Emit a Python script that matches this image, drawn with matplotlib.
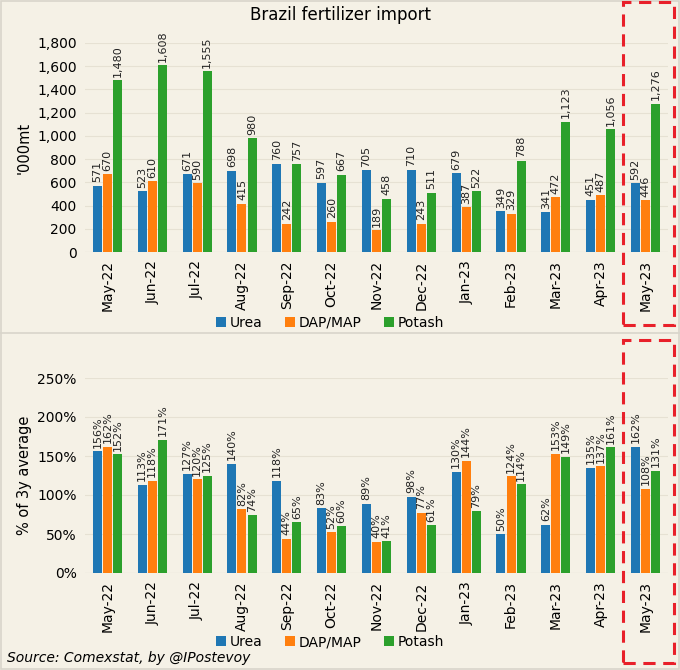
import matplotlib
matplotlib.use("Agg")
import matplotlib.pyplot as plt
import numpy as np
from matplotlib.patches import Rectangle
from matplotlib.lines import Line2D
from matplotlib.ticker import FuncFormatter

months = ["May-22", "Jun-22", "Jul-22", "Aug-22", "Sep-22", "Oct-22", "Nov-22",
          "Dec-22", "Jan-23", "Feb-23", "Mar-23", "Apr-23", "May-23"]
series = ["Urea", "DAP/MAP", "Potash"]

# '000 mt
urea_kt = [571, 523, 671, 698, 760, 597, 705, 710, 679, 349, 341, 451, 592]
dap_kt = [670, 610, 590, 415, 242, 260, 189, 243, 387, 329, 472, 487, 446]
potash_kt = [1480, 1608, 1555, 980, 757, 667, 458, 511, 522, 788, 1123, 1056, 1276]

# % of 3y average
urea_pct = [156, 113, 127, 140, 118, 83, 89, 98, 130, 50, 62, 135, 162]
dap_pct = [162, 118, 120, 82, 44, 52, 40, 77, 144, 124, 153, 137, 108]
potash_pct = [152, 171, 125, 74, 65, 60, 41, 61, 79, 114, 149, 161, 131]

colors = ["#1f77b4", "#ff7f0e", "#2ca02c"]
BG = "#f5f1e6"
W, H = 680, 670


def px_axes(fig, left, top, right, bottom):
    return fig.add_axes([left / W, 1 - bottom / H, (right - left) / W, (bottom - top) / H])


def draw_panel(ax, values, fmt, ylim, step, ylabel):
    x = np.arange(len(months))
    width = 0.2
    offsets = [-0.225, 0, 0.225]
    for vals, off, color, name in zip(values, offsets, colors, series):
        bars = ax.bar(x + off, vals, width, color=color, label=name, zorder=3)
        for b, v in zip(bars, vals):
            ax.annotate(fmt(v), (b.get_x() + b.get_width() / 2, b.get_height()),
                        xytext=(0, 2.5), textcoords="offset points",
                        rotation=90, ha="center", va="bottom", fontsize=8,
                        color="#222222")
    ax.set_facecolor(BG)
    ax.set_xlim(-0.5, len(months) - 0.5)
    ax.set_ylim(*ylim)
    ax.set_yticks(np.arange(ylim[0], ylim[1] + 1, step))
    ax.set_xticks(x)
    ax.set_xticklabels(months, rotation=90, fontsize=10)
    ax.tick_params(axis="both", length=0, labelsize=10, pad=6)
    ax.grid(axis="y", color="#e6e1d3", linewidth=0.8, zorder=0)
    for s in ax.spines.values():
        s.set_visible(False)
    ax.axhline(0, color="#e0dbcc", linewidth=0.8, zorder=1)
    ax.set_ylabel(ylabel, fontsize=10.5)


def add_legend(ax, y_px):
    ax.legend(loc="center", bbox_to_anchor=(330 / W, 1 - y_px / H), bbox_transform=fig.transFigure,
              ncol=3, frameon=False, fontsize=10, handlelength=0.7, handleheight=0.7,
              handletextpad=0.3, columnspacing=1.6, borderpad=0)


fig = plt.figure(figsize=(6.8, 6.7), dpi=100, facecolor=BG)

ax1 = px_axes(fig, 85, 43, 668, 252)
draw_panel(ax1, [urea_kt, dap_kt, potash_kt], lambda v: f"{v:,}", (0, 1800), 200, "'000mt")
ax1.yaxis.set_major_formatter(FuncFormatter(lambda v, p: f"{int(v):,}"))
fig.text(340 / W, 1 - 15 / H, "Brazil fertilizer import", fontsize=12, ha="center", va="center")
add_legend(ax1, 323)

ax2 = px_axes(fig, 85, 378, 668, 573)
draw_panel(ax2, [urea_pct, dap_pct, potash_pct], lambda v: f"{v}%", (0, 250), 50, "% of 3y average")
ax2.yaxis.set_major_formatter(FuncFormatter(lambda v, p: f"{int(v)}%"))
add_legend(ax2, 642)

fig.text(7 / W, 1 - 658 / H, "Source: Comexstat, by @IPostevoy", fontsize=10,
         style="italic", ha="left", va="center")

# panel divider and outer border
fig.add_artist(Line2D([0, 1], [1 - 333 / H, 1 - 333 / H], transform=fig.transFigure,
                      color="#d9d5cb", linewidth=1.2))
fig.add_artist(Rectangle((0.001, 0.001), 0.998, 0.998, transform=fig.transFigure,
                         fill=False, edgecolor="#d9d5cb", linewidth=1.2))

# highlight boxes
for top, bottom in [(2, 325), (340, 663)]:
    fig.add_artist(Rectangle((623 / W, 1 - bottom / H), (674 - 623) / W, (bottom - top) / H,
                             transform=fig.transFigure, fill=False, edgecolor="#e8202a",
                             linewidth=2.2, linestyle=(0, (4, 2.5))))

fig.savefig("out.png", dpi=100, facecolor=BG)
